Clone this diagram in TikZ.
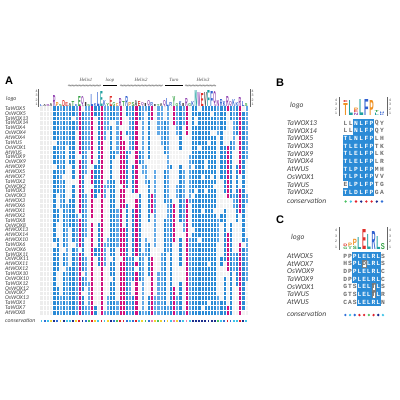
\documentclass[tikz,border=0pt]{standalone}
\usepackage{fontspec}
\setmainfont{Liberation Serif}
\newfontfamily\panelfont{Liberation Sans}
\newfontfamily\namefont{Carlito}
\newfontfamily\seqfont{Liberation Mono}
\usetikzlibrary{decorations.pathmorphing}

\definecolor{wxblue}{HTML}{2B8BD6}
\definecolor{wxlblue}{HTML}{62A9E6}
\definecolor{wxmag}{HTML}{D0117E}
\definecolor{wxlight}{HTML}{F3F3F3}
\definecolor{consred}{HTML}{E0202A}
\definecolor{conspink}{HTML}{F07AB0}
\definecolor{consnavy}{HTML}{1B2C8C}
\definecolor{consblue}{HTML}{2F6FD8}
\definecolor{conscyan}{HTML}{3FC4E8}
\definecolor{consyellow}{HTML}{F2D230}
\definecolor{consgreen}{HTML}{48C060}
\definecolor{logred}{HTML}{E0302A}
\definecolor{logblue}{HTML}{3060D0}
\definecolor{logteal}{HTML}{20A0A0}
\definecolor{loggreen}{HTML}{30A040}
\definecolor{logpurple}{HTML}{9040B0}
\definecolor{logorange}{HTML}{F09020}
\definecolor{logblack}{HTML}{404040}
\definecolor{logpink}{HTML}{E060A0}

\tikzset{
    colb/.style={fill=wxblue},
    coll/.style={fill=wxlblue},
    colm/.style={fill=wxmag},
    colg/.style={fill=gray!14},
    colw/.style={fill=wxlight},
    cellgrid/.style={white, line width=0.35pt},
    panellab/.style={anchor=west, inner sep=0pt, font=\panelfont\bfseries\fontsize{11}{11}\selectfont},
    nameA/.style={anchor=west, inner sep=0pt, font=\namefont\itshape\fontsize{5.8}{5.8}\selectfont, text=black!75},
    nameB/.style={anchor=west, inner sep=0pt, font=\namefont\itshape\fontsize{7.5}{7.5}\selectfont, text=black!75},
    seqcell/.style={inner sep=0pt, font=\seqfont\bfseries\fontsize{6.3}{6.3}\selectfont},
    hdlab/.style={inner sep=0pt, font=\itshape\fontsize{4.8}{4.8}\selectfont, text=black!70},
    zz/.style={gray, line width=0.3pt, decorate, decoration={zigzag, segment length=1.4pt, amplitude=0.7pt}},
    axisnum/.style={inner sep=0pt, font=\panelfont\fontsize{3.5}{3.5}\selectfont, text=black!70},
}
\newcommand{\logoletter}[7][2.7]{% [width] name, x, base y, height, letter, colour
    \node[inner sep=0pt, anchor=south, text=#7] (#2) at ({#3},{#4}) {\resizebox{#1pt}{#5pt}{\panelfont\bfseries #6}};}
\newcommand{\bitaxis}[3]{% x, base y, step
    \foreach \b in {1,...,4}
        \node[axisnum] at ({#1},{#2-\b*#3+0.5*#3}) {\b};}

\begin{document}
\begin{tikzpicture}[x=1pt,y=-1pt]
\useasboundingbox (0,0) rectangle (400,400);
\fill[white] (0,0) rectangle (400,400);

%% panel A
\def\xA{40} \def\wA{3.15} \def\yA{106} \def\hA{4.86} \def\nA{43} \def\mA{66}
\node[panellab] (labA) at (5,81) {A};
\node[nameA] (logoA) at (6,99) {logo};
\foreach \n [count=\i] in {TaWOX5,OsWOX5,TaWOX13,TaWOX14,TaWOX4,OsWOX4,AtWOX4,TaWUS,OsWOX1,AtWUS,TaWOX9,OsWOX9,AtWOX9,AtWOX5,AtWOX7,TaWOX2,OsWOX2,TaWOX3,OsWOX3,AtWOX3,AtWOX6,AtWOX1,AtWOX2,TaWOX8,OsWOX8,AtWOX13,AtWOX14,AtWOX10,TaWOX6,OsWOX6,TaWOX11,OsWOX11,AtWOX11,AtWOX12,TaWOX10,OsWOX10,TaWOX12,OsWOX12,OsWOX7,OsWOX13,TaWOX1,TaWOX7,AtWOX8}
    \node[nameA] (nA\i) at (5,{\yA+(\i-0.5)*\hA}) {\n};
\node[nameA] (consA) at (5,321) {conservation};

\node[hdlab] (hx1) at (86,80) {Helix1};
\draw[zz] (68,85.5) -- (101,85.5);
\node[hdlab] (lp) at (110,80) {loop};
\draw[line width=0.5pt] (103,85.5) -- (117,85.5);
\node[hdlab] (hx2) at (141,80) {Helix2};
\draw[zz] (120,85.5) -- (163,85.5);
\node[hdlab] (tn) at (174,80) {Turn};
\draw[line width=0.5pt] (165,85.5) -- (183,85.5);
\node[hdlab] (hx3) at (203,80) {Helix3};
\draw[zz] (185,85.5) -- (216,85.5);

\draw[line width=0.2pt, black!60] (38.5,89) -- (38.5,107);
\bitaxis{36.5}{107}{4.5}
\draw[line width=0.2pt, black!60] (250,89) -- (250,107);
\bitaxis{252.5}{107}{4.5}

\pgfmathsetseed{7}
\foreach \t/\p/\d/\l/\h/\k [count=\c] in {
    g/1/cyan/L/2/blue, g/1/blue/A/2/black, g/1/cyan/R/2/purple, g/1/yellow/A/3/black,
    b/.9/navy/R/11/purple, b/.8/blue/P/4/orange, l/.3/yellow/S/2/green, b/.9/navy/D/6/red,
    l/.6/cyan/E/4/red, b/.5/cyan/A/3/black, b/.9/navy/T/5/green, l/.2/yellow/K/2/blue,
    m/.9/red/E/10/green, b/.9/navy/Q/8/purple, l/.7/blue/I/4/black, l/.2/green/S/2/green,
    m/.9/red/L/12/blue, b/.3/yellow/K/3/blue, b/.6/cyan/L/14/blue, m/1/red/E/15/teal,
    l/.4/cyan/K/6/blue, l/.3/yellow/Y/3/green, b/.9/navy/E/10/red, b/.7/blue/G/4/green,
    l/.2/green/C/3/orange, m/.9/red/R/8/purple, m/.7/red/T/5/green, b/.8/blue/R/10/blue,
    l/.4/cyan/P/4/orange, b/.8/blue/S/4/green, m/.9/red/A/6/black, b/.6/cyan/E/5/red,
    l/.3/yellow/Q/3/purple, l/.2/green/I/3/black, b/.7/blue/Q/5/purple, m/.4/pink/R/4/blue,
    l/.3/yellow/I/2/black, l/.1/green/T/2/green, l/.2/yellow/A/3/black, b/.8/blue/Q/5/purple,
    l/.3/yellow/L/8/blue, b/.6/cyan/R/4/blue, m/.4/pink/Y/10/green, l/.3/yellow/G/3/green,
    b/.8/blue/K/5/blue, l/.4/cyan/I/3/black, m/.4/pink/R/8/purple, l/.5/cyan/G/3/green,
    b/.9/navy/K/5/blue, b/.95/navy/N/16/teal, b/.95/navy/W/14/purple, b/.95/navy/E/13/red,
    b/.95/navy/V/14/black, b/.95/navy/F/16/teal, b/.95/navy/F/15/blue, b/.95/navy/Q/12/purple,
    l/.2/green/N/6/purple, b/.5/cyan/R/7/blue, b/.8/blue/K/5/blue, m/.5/red/R/10/purple,
    b/.7/blue/Q/4/purple, l/.4/cyan/K/7/blue, b/.6/cyan/K/4/blue, m/.8/red/R/9/purple,
    b/.9/navy/L/5/blue, l/.5/cyan/S/3/green}{
    \pgfmathsetmacro{\xa}{\xA+\wA*(\c-1)}
    \pgfmathsetmacro{\xc}{\xa+\wA/2}
    \fill[col\t] (\xa,\yA) rectangle ++(\wA,{\nA*\hA});
    \pgfmathtruncatemacro{\gl}{round((1-\p)*\nA/3)}
    \ifnum\gl>0
        \foreach \g in {1,2,3}{
            \pgfmathtruncatemacro{\gs}{random(0,\nA-\gl)}
            \fill[colw] (\xa,{\yA+\gs*\hA}) rectangle ++(\wA,{\gl*\hA});
        }
    \fi
    \fill[cons\d] ({\xc-0.9},320.2) rectangle ++(1.8,1.8);
    \logoletter{lgA\c}{\xc}{107}{\h}{\l}{log\k}
}
\foreach \r in {1,...,42}
    \draw[cellgrid] (\xA,{\yA+\r*\hA}) -- ({\xA+\mA*\wA},{\yA+\r*\hA});
\foreach \c in {1,...,65}
    \draw[cellgrid, line width=0.25pt] ({\xA+\c*\wA},\yA) -- ({\xA+\c*\wA},{\yA+\nA*\hA});

%% panel B
\def\xB{343} \def\wB{5.2} \def\hB{7.7}
\node[panellab] (labB) at (276,83) {B};
\node[nameB] (logoB) at (290,106) {logo};
\foreach \n/\cells [count=\i] in {
    TaWOX13/{L/0,L/0,N/1,L/1,F/1,P/1,Q/0,Y/0},
    TaWOX14/{L/0,L/0,N/1,L/1,F/1,P/1,Q/0,Y/0},
    TaWOX5/{T/1,L/1,N/1,L/1,F/1,P/1,L/0,H/0},
    TaWOX3/{T/1,L/1,E/1,L/1,F/1,P/1,T/0,K/0},
    TaWOX9/{T/1,L/1,E/1,L/1,F/1,P/1,L/0,K/0},
    TaWOX4/{T/1,L/1,E/1,L/1,F/1,P/1,L/0,R/0},
    AtWUS/{T/1,L/1,P/1,L/1,F/1,P/1,M/0,H/0},
    OsWOX1/{T/1,L/1,P/1,L/1,F/1,P/1,V/0,V/0},
    TaWUS/{E/0,L/1,P/1,L/1,F/1,P/1,T/0,G/0},
    TaWOX2/{T/1,L/1,D/1,L/1,F/1,P/1,G/0,A/0}}{
    \node[nameB] (nB\i) at (287,{123+(\i-1)*\hB}) {\n};
    \foreach \ch/\on [count=\j] in \cells {
        \pgfmathsetmacro{\xs}{\xB+(\j-1)*\wB}
        \ifnum\on=1
            \fill[colb] (\xs,{123+(\i-1.5)*\hB}) rectangle ++(\wB,\hB);
            \node[seqcell, text=white] (sB\i-\j) at ({\xs+\wB/2},{123+(\i-1)*\hB}) {\ch};
        \else
            \node[seqcell, text=gray!85!black] (sB\i-\j) at ({\xs+\wB/2},{123+(\i-1)*\hB}) {\ch};
        \fi
    }
}
\node[nameB] (consB) at (287,201) {conservation};
\foreach \d [count=\j] in {green,cyan,red,navy,red,red,navy,blue}
    \fill[cons\d] ({\xB+(\j-0.5)*\wB},201.5) circle (1.3);

\draw[line width=0.2pt, black!60] (339,97) -- (339,116);
\bitaxis{336}{116}{4.6}
\draw[line width=0.2pt, black!60] (387,97) -- (387,116);
\bitaxis{390}{116}{4.6}
\logoletter[4.4]{lgB1}{\xB+0.5*\wB}{116}{12}{T}{logorange}
\logoletter[4.4]{lgB1b}{\xB+0.5*\wB}{102.8}{2}{E}{logred}
\logoletter[4.4]{lgB2}{\xB+1.5*\wB}{116}{15}{L}{logteal}
\logoletter[4.4]{lgB3}{\xB+2.5*\wB}{116}{2.4}{N}{logpurple}
\logoletter[4.4]{lgB3b}{\xB+2.5*\wB}{113.1}{2.4}{E}{logred}
\logoletter[4.4]{lgB3c}{\xB+2.5*\wB}{110.2}{2.4}{P}{logorange}
\logoletter[4.4]{lgB4}{\xB+3.5*\wB}{116}{16}{L}{logteal}
\logoletter[4.4]{lgB5}{\xB+4.5*\wB}{116}{16}{F}{logblue}
\logoletter[4.4]{lgB6}{\xB+5.5*\wB}{116}{15}{P}{logorange}
\logoletter[4.4]{lgB7}{\xB+6.5*\wB}{116}{2.4}{L}{logteal}
\logoletter[4.4]{lgB7b}{\xB+6.5*\wB}{113.1}{2}{T}{loggreen}
\logoletter[4.4]{lgB8}{\xB+7.5*\wB}{116}{1.5}{K}{logblue}
\logoletter[4.4]{lgB8b}{\xB+7.5*\wB}{113.9}{1.5}{H}{logblue}

%% panel C
\def\wC{4.7}
\node[panellab] (labC) at (276,220) {C};
\node[nameB] (logoC) at (291,238) {logo};
\foreach \n/\cells [count=\i] in {
    AtWOX5/{P/0,P/0,P/1,L/1,E/1,L/1,R/1,L/1,S/0},
    AtWOX7/{H/0,S/0,P/1,L/1,D/2,L/1,R/1,L/1,S/0},
    OsWOX9/{D/0,P/0,P/1,L/1,E/1,L/1,R/1,L/1,C/0},
    TaWOX9/{D/0,P/0,P/1,L/1,E/1,L/1,R/1,L/1,C/0},
    OsWOX1/{G/0,T/0,S/0,L/1,E/1,L/1,T/2,L/1,S/0},
    TaWUS/{G/0,T/0,S/0,L/1,E/1,L/1,T/2,L/1,R/0},
    AtWUS/{C/0,A/0,S/0,L/1,E/1,L/1,R/1,L/1,N/0}}{
    \node[nameB] (nC\i) at (287,{256+(\i-1)*\hB}) {\n};
    \foreach \ch/\on [count=\j] in \cells {
        \pgfmathsetmacro{\xs}{\xB+(\j-1)*\wC}
        \ifnum\on=0
            \node[seqcell, text=gray!85!black] (sC\i-\j) at ({\xs+\wC/2},{256+(\i-1)*\hB}) {\ch};
        \else
            \fill[colb] (\xs,{256+(\i-1.5)*\hB}) rectangle ++(\wC,\hB);
            \ifnum\on=2
                \fill[white, draw=gray] ({\xs+0.5},{256+(\i-1.5)*\hB+0.5}) rectangle ++({\wC-1},{\hB-1});
                \node[seqcell, text=gray!85!black] (sC\i-\j) at ({\xs+\wC/2},{256+(\i-1)*\hB}) {\ch};
            \else
                \node[seqcell, text=white] (sC\i-\j) at ({\xs+\wC/2},{256+(\i-1)*\hB}) {\ch};
            \fi
        \fi
    }
}
\node[nameB] (consC) at (287,314) {conservation};
\foreach \d [count=\j] in {blue,cyan,blue,red,red,green,red,navy,cyan}
    \fill[cons\d] ({\xB+(\j-0.5)*\wC},315) circle (1.3);

\draw[line width=0.2pt, black!60] (339,227) -- (339,250);
\bitaxis{336}{250}{5.5}
\draw[line width=0.2pt, black!60] (387,227) -- (387,250);
\bitaxis{390}{250}{5.5}
\logoletter[4]{lgC1}{\xB+0.5*\wC}{250}{2.4}{G}{loggreen}
\logoletter[4]{lgC1b}{\xB+0.5*\wC}{247}{2.4}{D}{logred}
\logoletter[4]{lgC2}{\xB+1.5*\wC}{250}{2.4}{T}{loggreen}
\logoletter[4]{lgC2b}{\xB+1.5*\wC}{247}{3.4}{P}{logorange}
\logoletter[4]{lgC3}{\xB+2.5*\wC}{250}{3.2}{S}{loggreen}
\logoletter[4]{lgC3b}{\xB+2.5*\wC}{245.6}{6.2}{P}{logorange}
\logoletter[4]{lgC4}{\xB+3.5*\wC}{250}{12}{L}{logteal}
\logoletter[4]{lgC5}{\xB+4.5*\wC}{250}{20}{E}{logred}
\logoletter[4]{lgC6}{\xB+5.5*\wC}{250}{15}{L}{logteal}
\logoletter[4]{lgC7}{\xB+6.5*\wC}{250}{18}{R}{logblue}
\logoletter[4]{lgC8}{\xB+7.5*\wC}{250}{13}{L}{logteal}
\logoletter[4]{lgC9}{\xB+8.5*\wC}{250}{6}{S}{loggreen}
\end{tikzpicture}
\end{document}
